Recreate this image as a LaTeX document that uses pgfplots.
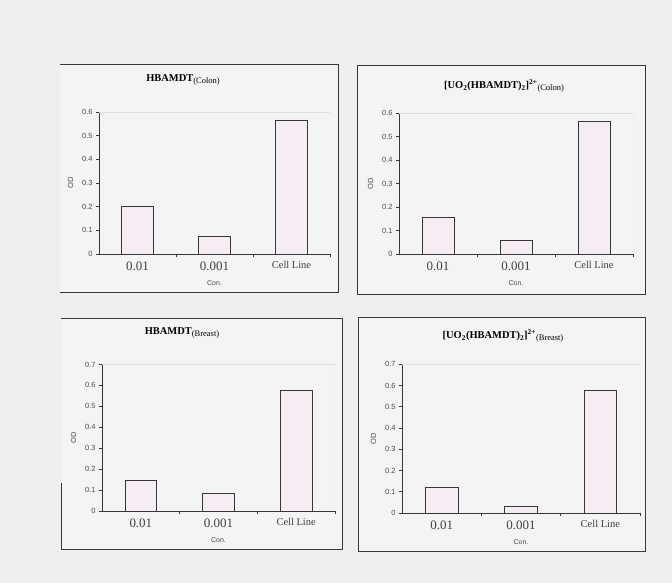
\documentclass[border=0pt]{standalone}
\usepackage{fontspec}
\setmainfont{Liberation Serif}
\setsansfont{Liberation Sans}
\usepackage{pgfplots}
\pgfplotsset{compat=1.18}
\definecolor{bg}{RGB}{239,239,239}
\definecolor{pbg}{RGB}{244,244,244}
\definecolor{barfill}{RGB}{246,237,244}
\definecolor{edge}{RGB}{55,55,55}
\definecolor{faint}{RGB}{222,222,222}
\pgfplotsset{
  panel/.style={
    scale only axis, anchor=south west,
    ybar, bar width=0.41,
    xmin=-0.5, xmax=2.5, ymin=0,
    axis x line*=bottom, axis y line*=left,
    axis line style={edge, line width=0.7bp},
    xtick={0,1,2},
    xticklabels={{\fontsize{13}{13}\selectfont 0.01},{\fontsize{13}{13}\selectfont 0.001},{\fontsize{10.5}{10.5}\selectfont Cell Line}},
    major x tick style={draw=none},
    minor xtick={0.5,1.5,2.5},
    minor tick length=3bp,
    major tick length=3bp,
    tick align=outside,
    tick style={edge, line width=0.6bp},
    xticklabel style={text=black!75, yshift=-1bp},
    yticklabel style={font=\sffamily\fontsize{7.5}{7.5}\selectfont, text=black!70, /pgf/number format/fixed, /pgf/number format/precision=1},
    /pgf/number format/assume math mode=true,
    ylabel={\sffamily\fontsize{7.5}{7.5}\selectfont OD},
    xlabel={\sffamily\fontsize{7}{7}\selectfont Con.},
    ylabel style={text=black!70, yshift=2bp},
    xlabel style={text=black!70, yshift=-3bp},
  },
  bars/.style={draw=edge, fill=barfill, line width=0.7bp},
}
\begin{document}
\begin{tikzpicture}
\useasboundingbox (0,0) rectangle (672bp,583bp);
\fill[bg] (0,0) rectangle (672bp,583bp);
% panel boxes
\fill[pbg] (60bp,291bp) rectangle (338bp,519bp);
\draw[edge, line width=0.8bp] (60bp,519bp) -- (338bp,519bp) -- (338bp,291bp) -- (60bp,291bp);
\fill[pbg] (357bp,289bp) rectangle (645bp,518bp);
\draw[edge, line width=0.8bp] (357bp,289bp) rectangle (645bp,518bp);
\fill[pbg] (61bp,34bp) rectangle (342bp,265bp);
\draw[edge, line width=0.8bp] (61bp,100bp) -- (61bp,34bp) -- (342bp,34bp) -- (342bp,265bp) -- (61bp,265bp);
\fill[pbg] (358bp,32bp) rectangle (645bp,266bp);
\draw[edge, line width=0.8bp] (358bp,32bp) rectangle (645bp,266bp);
% titles
\node[font=\fontsize{10.5}{10.5}\selectfont] at (183bp,503bp) {\textbf{HBAMDT}\raisebox{-2bp}{\fontsize{8.5}{8.5}\selectfont (Colon)}};
\node[font=\fontsize{10.5}{10.5}\selectfont] at (504bp,497bp) {\textbf{[UO\textsubscript{2}(HBAMDT)\textsubscript{2}]\textsuperscript{2+}}\raisebox{-2bp}{\fontsize{8.5}{8.5}\selectfont (Colon)}};
\node[font=\fontsize{10.5}{10.5}\selectfont] at (182bp,250bp) {\textbf{HBAMDT}\raisebox{-2bp}{\fontsize{8.5}{8.5}\selectfont (Breast)}};
\node[font=\fontsize{10.5}{10.5}\selectfont] at (503bp,247bp) {\textbf{[UO\textsubscript{2}(HBAMDT)\textsubscript{2}]\textsuperscript{2+}}\raisebox{-2bp}{\fontsize{8.5}{8.5}\selectfont (Breast)}};
% panel 1
\begin{axis}[panel, at={(99bp,329bp)}, width=231bp, height=142bp, ymax=0.6, ytick={0,0.1,...,0.6}]
\addplot[bars] coordinates {(0,0.2) (1,0.076) (2,0.566)};
\draw[faint] (rel axis cs:0,1) -- (rel axis cs:1,1) -- (rel axis cs:1,0);
\end{axis}
% panel 2
\begin{axis}[panel, at={(399bp,329bp)}, width=234bp, height=141bp, ymax=0.6, ytick={0,0.1,...,0.6}]
\addplot[bars] coordinates {(0,0.156) (1,0.056) (2,0.565)};
\draw[faint] (rel axis cs:0,1) -- (rel axis cs:1,1) -- (rel axis cs:1,0);
\end{axis}
% panel 3
\begin{axis}[panel, at={(102bp,72bp)}, width=233bp, height=146.5bp, ymax=0.7, ytick={0,0.1,...,0.7}]
\addplot[bars] coordinates {(0,0.147) (1,0.086) (2,0.577)};
\draw[faint] (rel axis cs:0,1) -- (rel axis cs:1,1) -- (rel axis cs:1,0);
\end{axis}
% panel 4
\begin{axis}[panel, at={(402bp,70bp)}, width=238bp, height=148.7bp, ymax=0.7, ytick={0,0.1,...,0.7}]
\addplot[bars] coordinates {(0,0.121) (1,0.03) (2,0.576)};
\draw[faint] (rel axis cs:0,1) -- (rel axis cs:1,1) -- (rel axis cs:1,0);
\end{axis}
\end{tikzpicture}
\end{document}
